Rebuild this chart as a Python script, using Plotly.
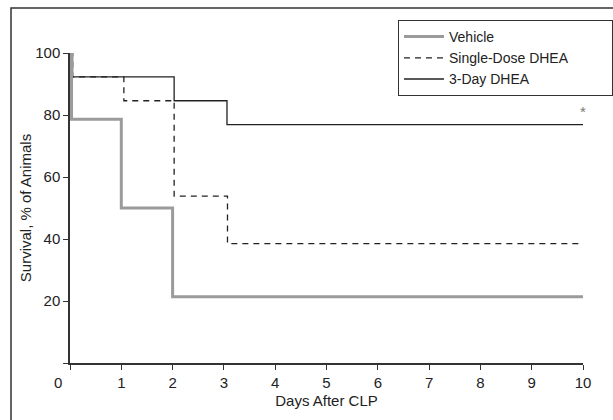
import plotly.graph_objects as go

# Data (Kaplan-Meier style step survival curves)
vehicle_days = [0, 0.03, 1.0, 2.0, 10]
vehicle_surv = [100, 78.6, 50.0, 21.4, 21.4]

single_days = [0, 0.05, 1.05, 2.03, 3.07, 10]
single_surv = [100, 92.3, 84.6, 53.8, 38.5, 38.5]

three_days = [0, 0.05, 2.03, 3.06, 10]
three_surv = [100, 92.3, 84.6, 76.9, 76.9]

x_ticks = [0, 1, 2, 3, 4, 5, 6, 7, 8, 9, 10]
x_ticktext = ["", "1", "2", "3", "4", "5", "6", "7", "8", "9", "10"]
y_ticks = [0, 20, 40, 60, 80, 100]
y_ticktext = ["", "20", "40", "60", "80", "100"]

FONT = "Liberation Sans, Arial, sans-serif"
INK = "#222222"
PAD = "&nbsp;" * 10

fig = go.Figure()
fig.add_trace(go.Scatter(x=single_days, y=single_surv, mode="lines", line_shape="hv",
                         name="Single-Dose DHEA" + PAD, legendrank=2,
                         line=dict(color=INK, width=1.3, dash="6px,5px")))
fig.add_trace(go.Scatter(x=three_days, y=three_surv, mode="lines", line_shape="hv",
                         name="3-Day DHEA", legendrank=3,
                         line=dict(color=INK, width=1.3)))
fig.add_trace(go.Scatter(x=vehicle_days, y=vehicle_surv, mode="lines", line_shape="hv",
                         name="Vehicle", legendrank=1,
                         line=dict(color="#9b9b9b", width=3)))

fig.add_annotation(x=10, y=81, text="*", showarrow=False, xanchor="center", yanchor="middle",
                   font=dict(size=15, color="#777777", family=FONT))
fig.add_annotation(x=0, y=0, text="0", showarrow=False, xanchor="center", yanchor="top",
                   xshift=-12, yshift=-9, font=dict(size=15, color=INK, family=FONT))

# outer frame (only left and top edges visible in the image)
fig.add_shape(type="rect", xref="paper", yref="paper",
              x0=-0.115, y0=-0.4, x1=1.3, y1=1.145,
              line=dict(color="#333333", width=1.5), layer="below")

fig.update_layout(
    width=613, height=420,
    margin=dict(l=70, r=30, t=53, b=57, autoexpand=False),
    plot_bgcolor="white", paper_bgcolor="white",
    font=dict(family=FONT, color=INK, size=15),
    showlegend=True,
    legend=dict(x=(398 - 70) / 513, y=(363 - 20) / 310, xanchor="left", yanchor="top",
                bordercolor="#333333", borderwidth=1, bgcolor="white",
                font=dict(size=14, family=FONT, color=INK),
                tracegroupgap=0, itemwidth=40),
    xaxis=dict(range=[0, 10], tickvals=x_ticks, ticktext=x_ticktext, automargin=False,
               showline=True, linecolor="#333333", linewidth=1.5,
               ticks="outside", ticklen=5, tickwidth=1.2, tickcolor="#333333",
               showgrid=False, zeroline=False,
               tickfont=dict(size=15),
               title=dict(text="Days After CLP", font=dict(size=15), standoff=6)),
    yaxis=dict(range=[0, 100], tickvals=y_ticks, ticktext=y_ticktext, automargin=False,
               showline=True, linecolor="#333333", linewidth=1.5,
               ticks="outside", ticklen=5, tickwidth=1.2, tickcolor="#333333",
               showgrid=False, zeroline=False,
               tickfont=dict(size=15),
               title=dict(text="Survival, % of Animals", font=dict(size=15), standoff=0)),
)

fig.write_html("out.html", config={"displayModeBar": False},
               post_script="document.body.style.margin='0';")
